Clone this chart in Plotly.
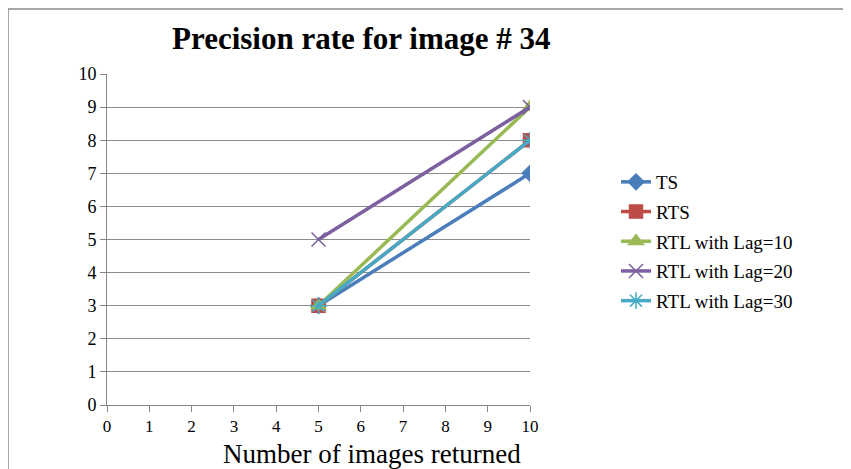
import plotly.graph_objects as go

x_vals = [5, 10]
series_names = ["TS", "RTS", "RTL with Lag=10", "RTL with Lag=20", "RTL with Lag=30"]
ts = [3, 7]
rts = [3, 8]
rtl10 = [3, 9]
rtl20 = [5, 9]
rtl30 = [3, 8]
x_ticks = list(range(0, 11))
y_ticks = list(range(0, 11))

colors = ["#4A7EBB", "#BE4B48", "#98B954", "#7D60A0", "#46AAC5"]
symbols = ["diamond", "square", "triangle-up", "x-thin-open", "asterisk-open"]
sizes = [12, 13, 13, 14, 14]
data = [ts, rts, rtl10, rtl20, rtl30]

fig = go.Figure()
for i, (name, ys) in enumerate(zip(series_names, data)):
    fig.add_trace(go.Scatter(
        x=x_vals, y=ys, name=name, mode="lines+markers",
        line=dict(color=colors[i], width=3.5),
        marker=dict(symbol=symbols[i], size=sizes[i], color=colors[i],
                    line=dict(color=colors[i], width=1.5)),
        legendgroup=name,
    ))

serif = "Liberation Serif, Times New Roman, serif"
# page body has an 8px margin; positions below are in figure pixels
L, R, T, B = 99, 522, 66, 397
W, H = 851, 469
def px(xp):
    return (xp - L) / (R - L)
def py(yp):
    return (B - yp) / (B - T)

fig.update_layout(
    width=W, height=H,
    margin=dict(l=L, r=W - R, t=T, b=H - B),
    paper_bgcolor="white", plot_bgcolor="white",
    font=dict(family=serif, color="black"),
    showlegend=True,
    legend=dict(x=px(608), y=py(155), xanchor="left", yanchor="top",
                font=dict(family=serif, size=19), tracegroupgap=2,
                bgcolor="rgba(0,0,0,0)"),
    xaxis=dict(range=[0, 10], tickvals=x_ticks, ticktext=[str(t) for t in x_ticks],
               showgrid=False, zeroline=False, showline=True, linecolor="#868686",
               linewidth=1, ticks="outside", ticklen=6, tickcolor="#868686",
               tickfont=dict(family=serif, size=17)),
    yaxis=dict(range=[0, 10], tickvals=y_ticks, showgrid=True, gridcolor="#8C8C8C",
               gridwidth=1, zeroline=False, showline=True, linecolor="#868686",
               linewidth=1, ticks="outside", ticklen=6, tickcolor="#868686",
               tickfont=dict(family=serif, size=18)),
    annotations=[
        dict(text="<b>Precision rate for image # 34</b>", xref="paper", yref="paper",
             x=px(353), y=py(30), xanchor="center", yanchor="middle",
             showarrow=False, font=dict(family=serif, size=31)),
        dict(text="Number of images returned", xref="paper", yref="paper",
             x=px(364), y=py(446), xanchor="center", yanchor="middle",
             showarrow=False, font=dict(family=serif, size=27)),
    ],
    shapes=[
        dict(type="rect", xref="paper", yref="paper",
             x0=px(0), x1=px(870), y0=py(500), y1=py(1),
             line=dict(color="#8C8C8C", width=1.5), fillcolor="rgba(0,0,0,0)", layer="below"),
    ],
)

fig.write_html("out.html")
